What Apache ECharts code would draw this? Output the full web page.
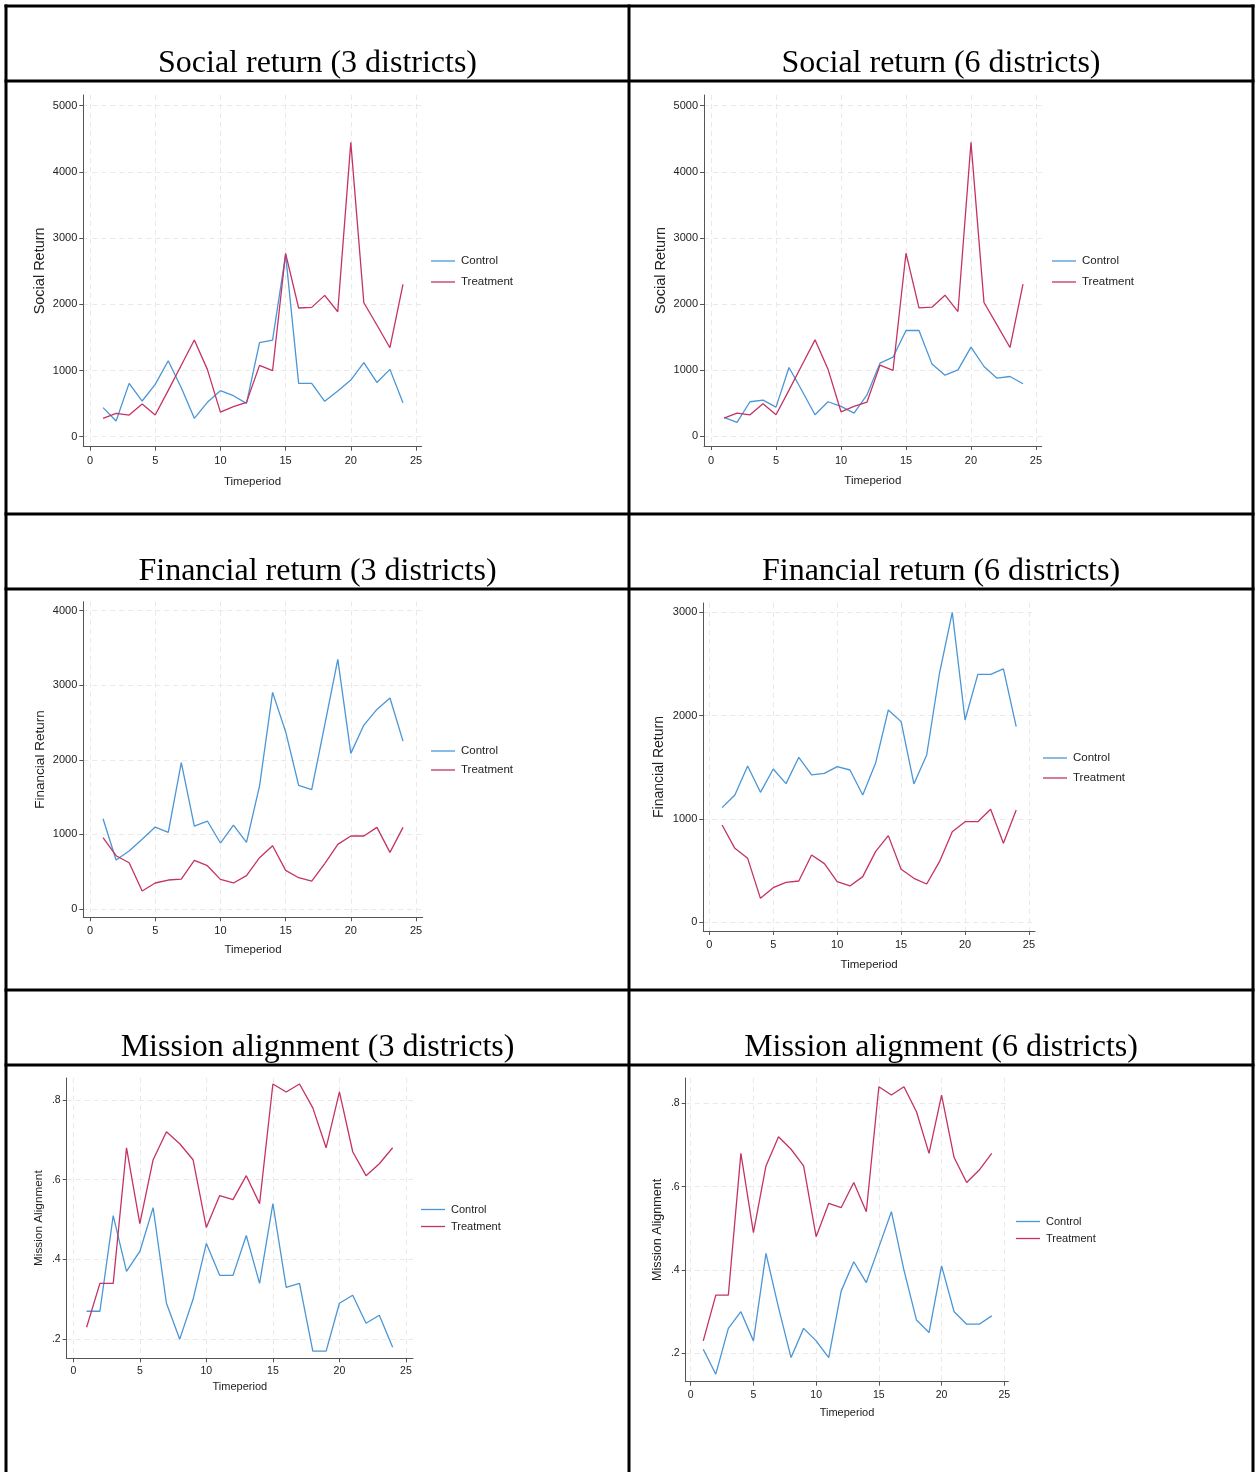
<!DOCTYPE html>
<html>
<head>
<meta charset="utf-8">
<script src="https://cdn.jsdelivr.net/npm/echarts@6/dist/echarts.min.js"></script>
<style>
html,body{margin:0;padding:0;background:#ffffff;}
#chart{width:1255px;height:1472px;}
</style>
</head>
<body>
<div id="chart"></div>
<script>
// ---------------- DATA ----------------
const periods = [1,2,3,4,5,6,7,8,9,10,11,12,13,14,15,16,17,18,19,20,21,22,23,24];
const xTickValues = [0,5,10,15,20,25];

const social3Control   = [440,237,806,539,790,1148,740,277,519,695,619,504,1420,1460,2750,806,806,534,690,856,1118,820,1017,513];
const social3Treatment = [277,352,327,493,327,700,1080,1460,1017,372,453,519,1078,997,2770,1944,1954,2135,1888,4446,2024,1687,1344,2301];
const social6Control   = [287,211,524,549,443,1042,690,327,524,453,352,629,1108,1198,1601,1601,1093,926,1007,1349,1057,881,906,796];
const social6Treatment = [277,352,327,493,327,700,1080,1460,1017,372,453,519,1078,997,2770,1944,1954,2135,1888,4446,2024,1687,1344,2301];
const socialTicks = [0,1000,2000,3000,4000,5000];

const fin3Control   = [1211,657,778,935,1099,1028,1962,1113,1180,885,1126,894,1650,2905,2378,1658,1600,2470,3347,2087,2467,2677,2829,2252];
const fin3Treatment = [956,715,621,241,349,389,402,652,581,398,349,447,688,849,518,420,375,610,867,979,979,1095,760,1095];
const fin3Ticks = [0,1000,2000,3000,4000];
const fin6Control   = [1110,1232,1513,1258,1484,1342,1597,1426,1442,1506,1474,1232,1539,2055,1942,1339,1619,2410,3000,1958,2400,2400,2452,1894];
const fin6Treatment = [942,716,619,232,335,387,400,652,568,394,352,442,684,839,513,426,371,587,877,974,974,1094,765,1087];
const fin6Ticks = [0,1000,2000,3000];

const mission3Control   = [0.27,0.27,0.51,0.37,0.42,0.53,0.29,0.20,0.30,0.44,0.36,0.36,0.46,0.34,0.54,0.33,0.34,0.17,0.17,0.29,0.31,0.24,0.26,0.18];
const mission3Treatment = [0.23,0.34,0.34,0.68,0.49,0.65,0.72,0.69,0.65,0.48,0.56,0.55,0.61,0.54,0.84,0.82,0.84,0.78,0.68,0.82,0.67,0.61,0.64,0.68];
const mission6Control   = [0.21,0.15,0.26,0.30,0.23,0.44,0.31,0.19,0.26,0.23,0.19,0.35,0.42,0.37,0.455,0.54,0.40,0.28,0.25,0.41,0.30,0.27,0.27,0.29];
const mission6Treatment = [0.23,0.34,0.34,0.68,0.49,0.65,0.72,0.69,0.65,0.48,0.56,0.55,0.61,0.54,0.84,0.82,0.84,0.78,0.68,0.82,0.67,0.61,0.64,0.68];
const missionTicks = [0.2,0.4,0.6,0.8];

const seriesNames = ['Control','Treatment'];
const titles = ['Social return (3 districts)','Social return (6 districts)',
                'Financial return (3 districts)','Financial return (6 districts)',
                'Mission alignment (3 districts)','Mission alignment (6 districts)'];
const yNames = ['Social Return','Social Return','Financial Return','Financial Return','Mission Alignment','Mission Alignment'];
const xName = 'Timeperiod';

// ---------------- LAYOUT / STYLE ----------------
const COLORS = ['#4a96d6', '#c53266'];
const NARROW = "'Liberation Sans Narrow','Arial Narrow','Liberation Sans',Arial,sans-serif";
const SANS = "'Liberation Sans',Arial,sans-serif";
const SERIF = "'Liberation Serif','Times New Roman',serif";

const panels = [
  {c: social3Control, t: social3Treatment, yt: socialTicks, box:[83.3,95,421.7,446.7], xr:[-0.514,25.437], yr:[-151,5162],
   fs:11, nfs:14.5, lfs:11.5, xm:9, xg:29, yg:36, leg:[431,255,9], title:[317.5,64]},
  {c: social6Control, t: social6Treatment, yt: socialTicks, box:[704,95,1041.7,446], xr:[-0.54,25.44], yr:[-145,5162],
   fs:11, nfs:14.5, lfs:11.5, xm:9, xg:29, yg:36, leg:[1052,255,9], title:[941,64]},
  {c: fin3Control, t: fin3Treatment, yt: fin3Ticks, box:[83.3,601.7,422.7,917.3], xr:[-0.514,25.51], yr:[-111,4121],
   fs:11, nfs:13.5, lfs:11.5, xm:8, xg:27, yg:36, leg:[431,745,7], title:[317.5,572]},
  {c: fin6Control, t: fin6Treatment, yt: fin6Ticks, box:[703.3,603,1035,931], xr:[-0.469,25.47], yr:[-84,3090],
   fs:11, nfs:14, lfs:11.5, xm:8, xg:28, yg:37, leg:[1043,752,8], title:[941,572]},
  {c: mission3Control, t: mission3Treatment, yt: missionTicks, box:[66.7,1078,413,1358.3], xr:[-0.496,25.53], yr:[0.152,0.855],
   fs:10.5, nfs:11.8, lfs:11, xm:7, xg:23, yg:22, leg:[421,1204,6], title:[317.5,1048]},
  {c: mission6Control, t: mission6Treatment, yt: missionTicks, box:[685.7,1078,1008.3,1381.7], xr:[-0.4,25.32], yr:[0.132,0.861],
   fs:10.5, nfs:12.6, lfs:11, xm:8, xg:26, yg:22, leg:[1016,1216,6], title:[941,1048]}
];

function yFmt(v){
  if (Math.abs(v) < 1 && v !== 0) return v.toFixed(1).replace(/^0/, '');
  return String(v);
}

const grid = [], xAxis = [], yAxis = [], series = [], legend = [], title = [];
panels.forEach((p, i) => {
  const [l, t, r, b] = p.box;
  grid.push({left: l, top: t, width: r - l, height: b - t, containLabel: false});
  const gridLine = {show: true, lineStyle: {color: '#e9e9e9', width: 1, type: [5, 4]}};
  xAxis.push({
    type: 'value', gridIndex: i, min: p.xr[0], max: p.xr[1],
    name: xName, nameLocation: 'middle', nameGap: p.xg,
    nameTextStyle: {fontFamily: NARROW, fontSize: p.lfs, color: '#222'},
    axisLine: {show: true, onZero: false, lineStyle: {color: '#555', width: 1}},
    axisTick: {show: true, length: 4, lineStyle: {color: '#555'}, customValues: xTickValues},
    axisLabel: {fontFamily: NARROW, fontSize: p.fs, color: '#222', margin: p.xm, customValues: xTickValues},
    splitLine: gridLine
  });
  yAxis.push({
    type: 'value', gridIndex: i, min: p.yr[0], max: p.yr[1],
    name: yNames[i], nameLocation: 'middle', nameGap: p.yg, nameRotate: 90,
    nameTextStyle: {fontFamily: SANS, fontSize: p.nfs, color: '#222'},
    axisLine: {show: true, onZero: false, lineStyle: {color: '#555', width: 1}},
    axisTick: {show: true, length: 4, lineStyle: {color: '#555'}, customValues: p.yt},
    axisLabel: {fontFamily: NARROW, fontSize: p.fs, color: '#222', margin: 6, customValues: p.yt, formatter: yFmt},
    splitLine: gridLine
  });
  [p.c, p.t].forEach((vals, k) => {
    series.push({
      type: 'line', name: seriesNames[k], xAxisIndex: i, yAxisIndex: i,
      data: periods.map((x, j) => [x, vals[j]]),
      symbol: 'none', showSymbol: false, silent: true,
      lineStyle: {color: COLORS[k], width: 1.3},
      itemStyle: {color: COLORS[k]}
    });
  });
  legend.push({
    orient: 'vertical', left: p.leg[0], top: p.leg[1], itemGap: p.leg[2],
    itemWidth: 24, itemHeight: 12, data: seriesNames, padding: 0,
    icon: 'path://M0,0L24,0L24,1.3L0,1.3Z',
    textStyle: {fontFamily: NARROW, fontSize: p.lfs, color: '#222', padding: [0,0,0,1]},
    selectedMode: false
  });
  title.push({
    text: titles[i], left: p.title[0], top: p.title[1] - 16, textAlign: 'center', padding: 0,
    textStyle: {fontFamily: SERIF, fontSize: 32, fontWeight: 'normal', color: '#000'}
  });
});

// table borders
const L = 6, R = 1253, T = 6, B = 1472, MID = 629;
const hLines = [T, 81, 514, 589, 990, 1065];
const graphic = [];
hLines.forEach(y => graphic.push({type:'line', shape:{x1:L-1.5, y1:y, x2:R+1.5, y2:y}, style:{stroke:'#000', lineWidth:3}, silent:true}));
[L, MID, R].forEach(x => graphic.push({type:'line', shape:{x1:x, y1:T-1.5, x2:x, y2:B}, style:{stroke:'#000', lineWidth:3}, silent:true}));

const chart = echarts.init(document.getElementById('chart'), null, {renderer: 'canvas'});
chart.setOption({
  animation: false,
  backgroundColor: '#ffffff',
  title, grid, xAxis, yAxis, series, legend, graphic
});
</script>
</body>
</html>
